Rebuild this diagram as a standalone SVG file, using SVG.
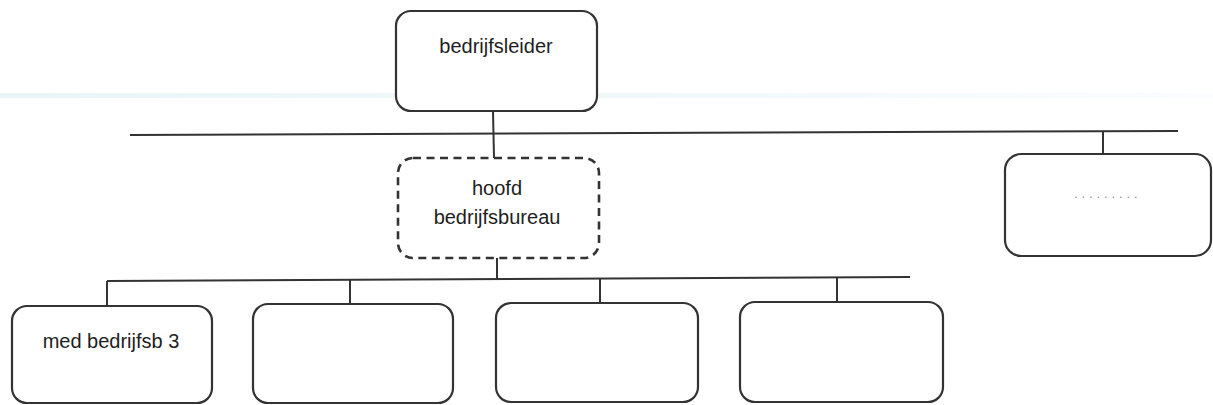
<svg xmlns="http://www.w3.org/2000/svg" width="1213" height="405" viewBox="0 0 1213 405">
<defs>
<style>
.box{fill:#fff;stroke:#333;stroke-width:2.2}
.dash{fill:#fff;stroke:#333;stroke-width:2.6;stroke-dasharray:8 5.5}
.ln{stroke:#333;stroke-width:2;fill:none}
.t{font-family:"Liberation Sans",Arial,sans-serif;font-size:20px;fill:#1e1e1e;text-anchor:middle}
.dots{font-family:"Liberation Sans",Arial,sans-serif;font-size:13px;fill:#8a8a8a;letter-spacing:3.9px}
</style>
<linearGradient id="band" x1="0" y1="0" x2="1" y2="0">
<stop offset="0" stop-color="#e3f3f5" stop-opacity="0.8"/>
<stop offset="0.6" stop-color="#e8f5f7" stop-opacity="0.6"/>
<stop offset="1" stop-color="#f0f8fa" stop-opacity="0.3"/>
</linearGradient>
</defs>
<rect x="0" y="0" width="1213" height="405" fill="#fff"/>
<rect x="0" y="93" width="1213" height="5" fill="url(#band)"/>
<g id="connectors">
<line class="ln" x1="493" y1="111" x2="494" y2="158"/>
<line class="ln" x1="130" y1="135" x2="1178" y2="131"/>
<line class="ln" x1="1103" y1="131" x2="1103" y2="154"/>
<line class="ln" x1="497" y1="258" x2="497" y2="279"/>
<line class="ln" x1="107" y1="281" x2="910" y2="277"/>
<line class="ln" x1="107" y1="281" x2="107" y2="306"/>
<line class="ln" x1="350" y1="280" x2="350" y2="304"/>
<line class="ln" x1="600" y1="279" x2="600" y2="303"/>
<line class="ln" x1="837" y1="278" x2="837" y2="302"/>
</g>
<g id="node-bedrijfsleider">
<rect class="box" x="396" y="11" width="201" height="100" rx="15"/>
<text class="t" x="496" y="53">bedrijfsleider</text>
</g>
<g id="node-hoofd-bedrijfsbureau">
<rect class="dash" x="398" y="158" width="201" height="100" rx="15"/>
<text class="t" x="497" y="195">hoofd</text>
<text class="t" x="497" y="224">bedrijfsbureau</text>
</g>
<g id="node-right">
<rect class="box" x="1005" y="154" width="206" height="102" rx="16"/>
<text class="dots" x="1074" y="198">.........</text>
</g>
<g id="node-med1">
<rect class="box" x="12" y="306" width="200" height="97" rx="15"/>
<text class="t" x="111" y="348">med bedrijfsb 3</text>
</g>
<g id="node-med2">
<rect class="box" x="253" y="304" width="200" height="99" rx="15"/>
</g>
<g id="node-med3">
<rect class="box" x="496" y="303" width="202" height="99" rx="15"/>
</g>
<g id="node-med4">
<rect class="box" x="740" y="302" width="203" height="100" rx="15"/>
</g>
</svg>
